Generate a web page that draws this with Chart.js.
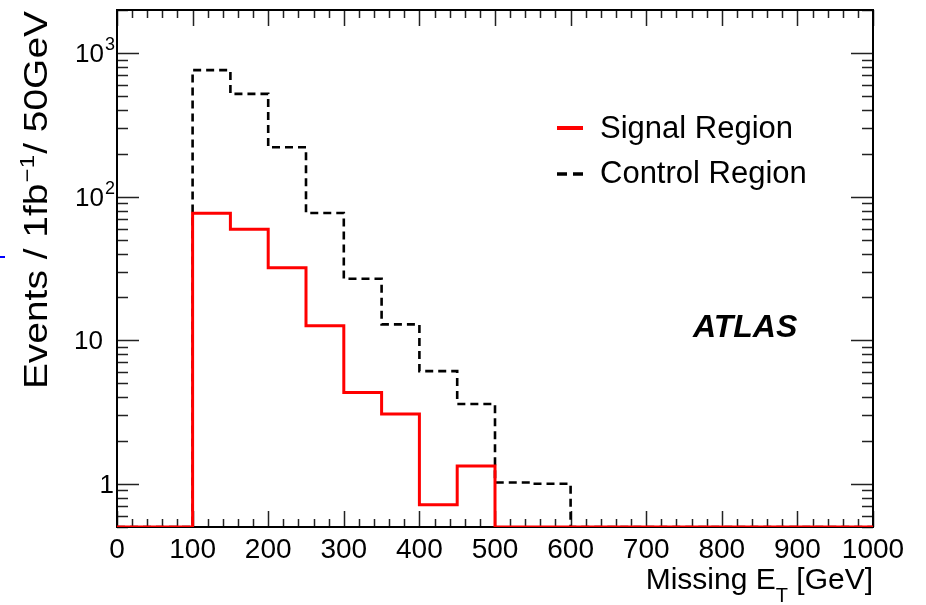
<!DOCTYPE html>
<html>
<head>
<meta charset="utf-8">
<script src="https://cdn.jsdelivr.net/npm/chart.js@4/dist/chart.umd.min.js"></script>
<style>
  html, body { margin: 0; padding: 0; background: #fff; }
  #wrap { width: 926px; height: 605px; }
</style>
</head>
<body>
<div id="wrap"><canvas id="c" width="926" height="605"></canvas></div>
<script>
// --- DANE ---
// lewe krawędzie binów, szerokość 50 GeV
const binLow = [0, 50, 100, 150, 200, 250, 300, 350, 400, 450, 500, 550, 600, 650, 700, 750, 800, 850, 900, 950];
const binHigh = 1000;
const signalRegion = [0, 0, 76.6, 59.3, 32.0, 12.6, 4.33, 3.06, 0.714, 1.33, 0, 0, 0, 0, 0, 0, 0, 0, 0, 0];
const controlRegion = [0, 0, 762, 521, 221, 77, 26.8, 12.9, 6.1, 3.6, 1.02, 1.0, 0, 0, 0, 0, 0, 0, 0, 0];

const xTickValues = [0, 100, 200, 300, 400, 500, 600, 700, 800, 900, 1000];
const xTickLabels = ['0', '100', '200', '300', '400', '500', '600', '700', '800', '900', '1000'];
const yTickValues = [1, 10, 100, 1000];
const yTickBase = ['1', '10', '10', '10'];
const yTickExp = ['', '', '2', '3'];

const Y_MIN = 0.5;
const Y_MAX = 2000;
const FONT = '"Liberation Sans", Arial, Helvetica, sans-serif';

// histogram -> punkty schodkowe (puste biny rysujemy na dole osi)
function toSteps(values) {
    const pts = binLow.map((x, i) => ({ x: x, y: Math.max(values[i], Y_MIN) }));
    pts.push({ x: binHigh, y: Math.max(values[values.length - 1], Y_MIN) });
    return pts;
}

// ramka + znaczniki osi (do środka, jak w ROOT)
const rootFrame = {
    id: 'rootFrame',
    beforeDatasetsDraw(chart) {
        const { ctx, chartArea: a, scales: { x, y } } = chart;
        ctx.save();
        ctx.strokeStyle = '#222';
        ctx.lineWidth = 1.5;
        ctx.beginPath();
        for (let v = 0; v <= 1000; v += 20) {
            const px = Math.round(x.getPixelForValue(v)) + 0.5;
            const len = v % 100 === 0 ? 16 : 8;
            ctx.moveTo(px, a.bottom); ctx.lineTo(px, a.bottom - len);
            ctx.moveTo(px, a.top); ctx.lineTo(px, a.top + len);
        }
        for (let d = 0.1; d <= 1000; d *= 10) {
            for (let m = 1; m <= 9; m++) {
                const v = m * d;
                if (v < Y_MIN || v > Y_MAX) continue;
                const py = Math.round(y.getPixelForValue(v)) + 0.5;
                const len = m === 1 ? 22 : 11;
                ctx.moveTo(a.left, py); ctx.lineTo(a.left + len, py);
                ctx.moveTo(a.right, py); ctx.lineTo(a.right - len, py);
            }
        }
        ctx.stroke();
        ctx.strokeStyle = '#000';
        ctx.lineWidth = 2;
        ctx.strokeRect(a.left, a.top, a.right - a.left, a.bottom - a.top);
        ctx.restore();
    },
    afterDraw(chart) {
        const { ctx, chartArea: a, scales: { y } } = chart;
        ctx.save();
        ctx.fillStyle = '#000';

        // etykiety osi Y: 1, 10, 10^2, 10^3
        ctx.textBaseline = 'alphabetic';
        ctx.textAlign = 'left';
        yTickValues.forEach((v, i) => {
            const py = y.getPixelForValue(v);
            const base = yTickBase[i], exp = yTickExp[i];
            ctx.font = '26px ' + FONT;
            const wb = ctx.measureText(base).width;
            ctx.font = '18px ' + FONT;
            const we = exp ? ctx.measureText(exp).width : 0;
            let right = a.left - 3;
            if (base === '10' && !exp) right = a.left - 14;
            const x0 = right - wb - we;
            ctx.font = '26px ' + FONT;
            ctx.fillText(base, x0, py + 9);
            if (exp) {
                ctx.font = '18px ' + FONT;
                ctx.fillText(exp, x0 + wb + 1, py - 3);
            }
        });

        // tytuł osi Y (obrócony, rozciągnięty jak w oryginale)
        ctx.save();
        ctx.translate(47, a.top + 1);
        ctx.rotate(-Math.PI / 2);
        ctx.scale(1.145, 1);
        const fMain = '34px ' + FONT, fSup = '21px ' + FONT;
        ctx.font = fMain;
        const p1 = 'Events / 1fb', p3 = '/ 50GeV';
        const w1 = ctx.measureText(p1).width, w3 = ctx.measureText(p3).width;
        ctx.font = fSup;
        const w2 = ctx.measureText('\u22121').width + 2;
        let tx = -(w1 + w2 + w3);
        ctx.font = fMain;
        ctx.fillText(p1, tx, 0);
        ctx.font = fSup;
        ctx.fillText('\u22121', tx + w1 + 1, -13);
        ctx.font = fMain;
        ctx.fillText(p3, tx + w1 + w2, 0);
        ctx.restore();

        // legenda
        ctx.lineWidth = 4;
        ctx.strokeStyle = '#ff0000';
        ctx.beginPath(); ctx.moveTo(557, 128); ctx.lineTo(583, 128); ctx.stroke();
        ctx.strokeStyle = '#000';
        ctx.lineWidth = 3.5;
        ctx.setLineDash([10, 6]);
        ctx.beginPath(); ctx.moveTo(557, 174); ctx.lineTo(583, 174); ctx.stroke();
        ctx.setLineDash([]);
        ctx.font = '31px ' + FONT;
        ctx.textBaseline = 'middle';
        ctx.fillText('Signal Region', 600, 129);
        ctx.fillText('Control Region', 600, 174);
        // ATLAS
        ctx.font = 'italic bold 32px ' + FONT;
        ctx.fillText('ATLAS', 693, 328);

        // tytuł osi X z indeksem dolnym
        ctx.textBaseline = 'alphabetic';
        const big = '30px ' + FONT, small = '20px ' + FONT;
        ctx.font = big;
        const m1 = ctx.measureText('Missing E').width;
        const m3 = ctx.measureText(' [GeV]').width;
        ctx.font = small;
        const m2 = ctx.measureText('T').width;
        const xx = a.right - (m1 + m2 + m3);
        ctx.font = big;
        ctx.fillText('Missing E', xx, 589);
        ctx.font = small;
        ctx.fillText('T', xx + m1, 602);
        ctx.font = big;
        ctx.fillText(' [GeV]', xx + m1 + m2, 589);

        // niebieski ślad przy lewej krawędzi
        ctx.fillStyle = '#0000ff';
        ctx.fillRect(0, 256, 5, 2);
        ctx.restore();
    }
};

const ctx = document.getElementById('c').getContext('2d');
new Chart(ctx, {
    type: 'line',
    data: {
        datasets: [
            {
                label: 'Signal Region',
                data: toSteps(signalRegion),
                borderColor: '#ff0000',
                borderWidth: 3,
                stepped: 'before',
                pointRadius: 0,
                fill: false
            },
            {
                label: 'Control Region',
                data: toSteps(controlRegion),
                borderColor: '#000000',
                borderWidth: 2.6,
                borderDash: [8, 5],
                stepped: 'before',
                pointRadius: 0,
                fill: false
            }
        ]
    },
    options: {
        responsive: false,
        animation: false,
        devicePixelRatio: 1,
        layout: { padding: { top: 10, right: 53, bottom: 0, left: 0 } },
        plugins: {
            legend: { display: false },
            tooltip: { enabled: false }
        },
        scales: {
            x: {
                type: 'linear',
                min: 0,
                max: 1000,
                grid: { display: false, drawTicks: false },
                border: { display: false },
                afterBuildTicks: (s) => { s.ticks = xTickValues.map(v => ({ value: v })); },
                afterFit: (s) => { s.height = 78; },
                ticks: {
                    color: '#000',
                    padding: 6,
                    maxRotation: 0,
                    autoSkip: false,
                    font: { family: FONT, size: 28 },
                    callback: (v) => xTickLabels[xTickValues.indexOf(v)]
                }
            },
            y: {
                type: 'logarithmic',
                min: Y_MIN,
                max: Y_MAX,
                grid: { display: false, drawTicks: false },
                border: { display: false },
                afterBuildTicks: (s) => { s.ticks = yTickValues.map(v => ({ value: v })); },
                afterFit: (s) => { s.width = 117; },
                ticks: { display: false }
            }
        }
    },
    plugins: [rootFrame]
});
</script>
</body>
</html>
